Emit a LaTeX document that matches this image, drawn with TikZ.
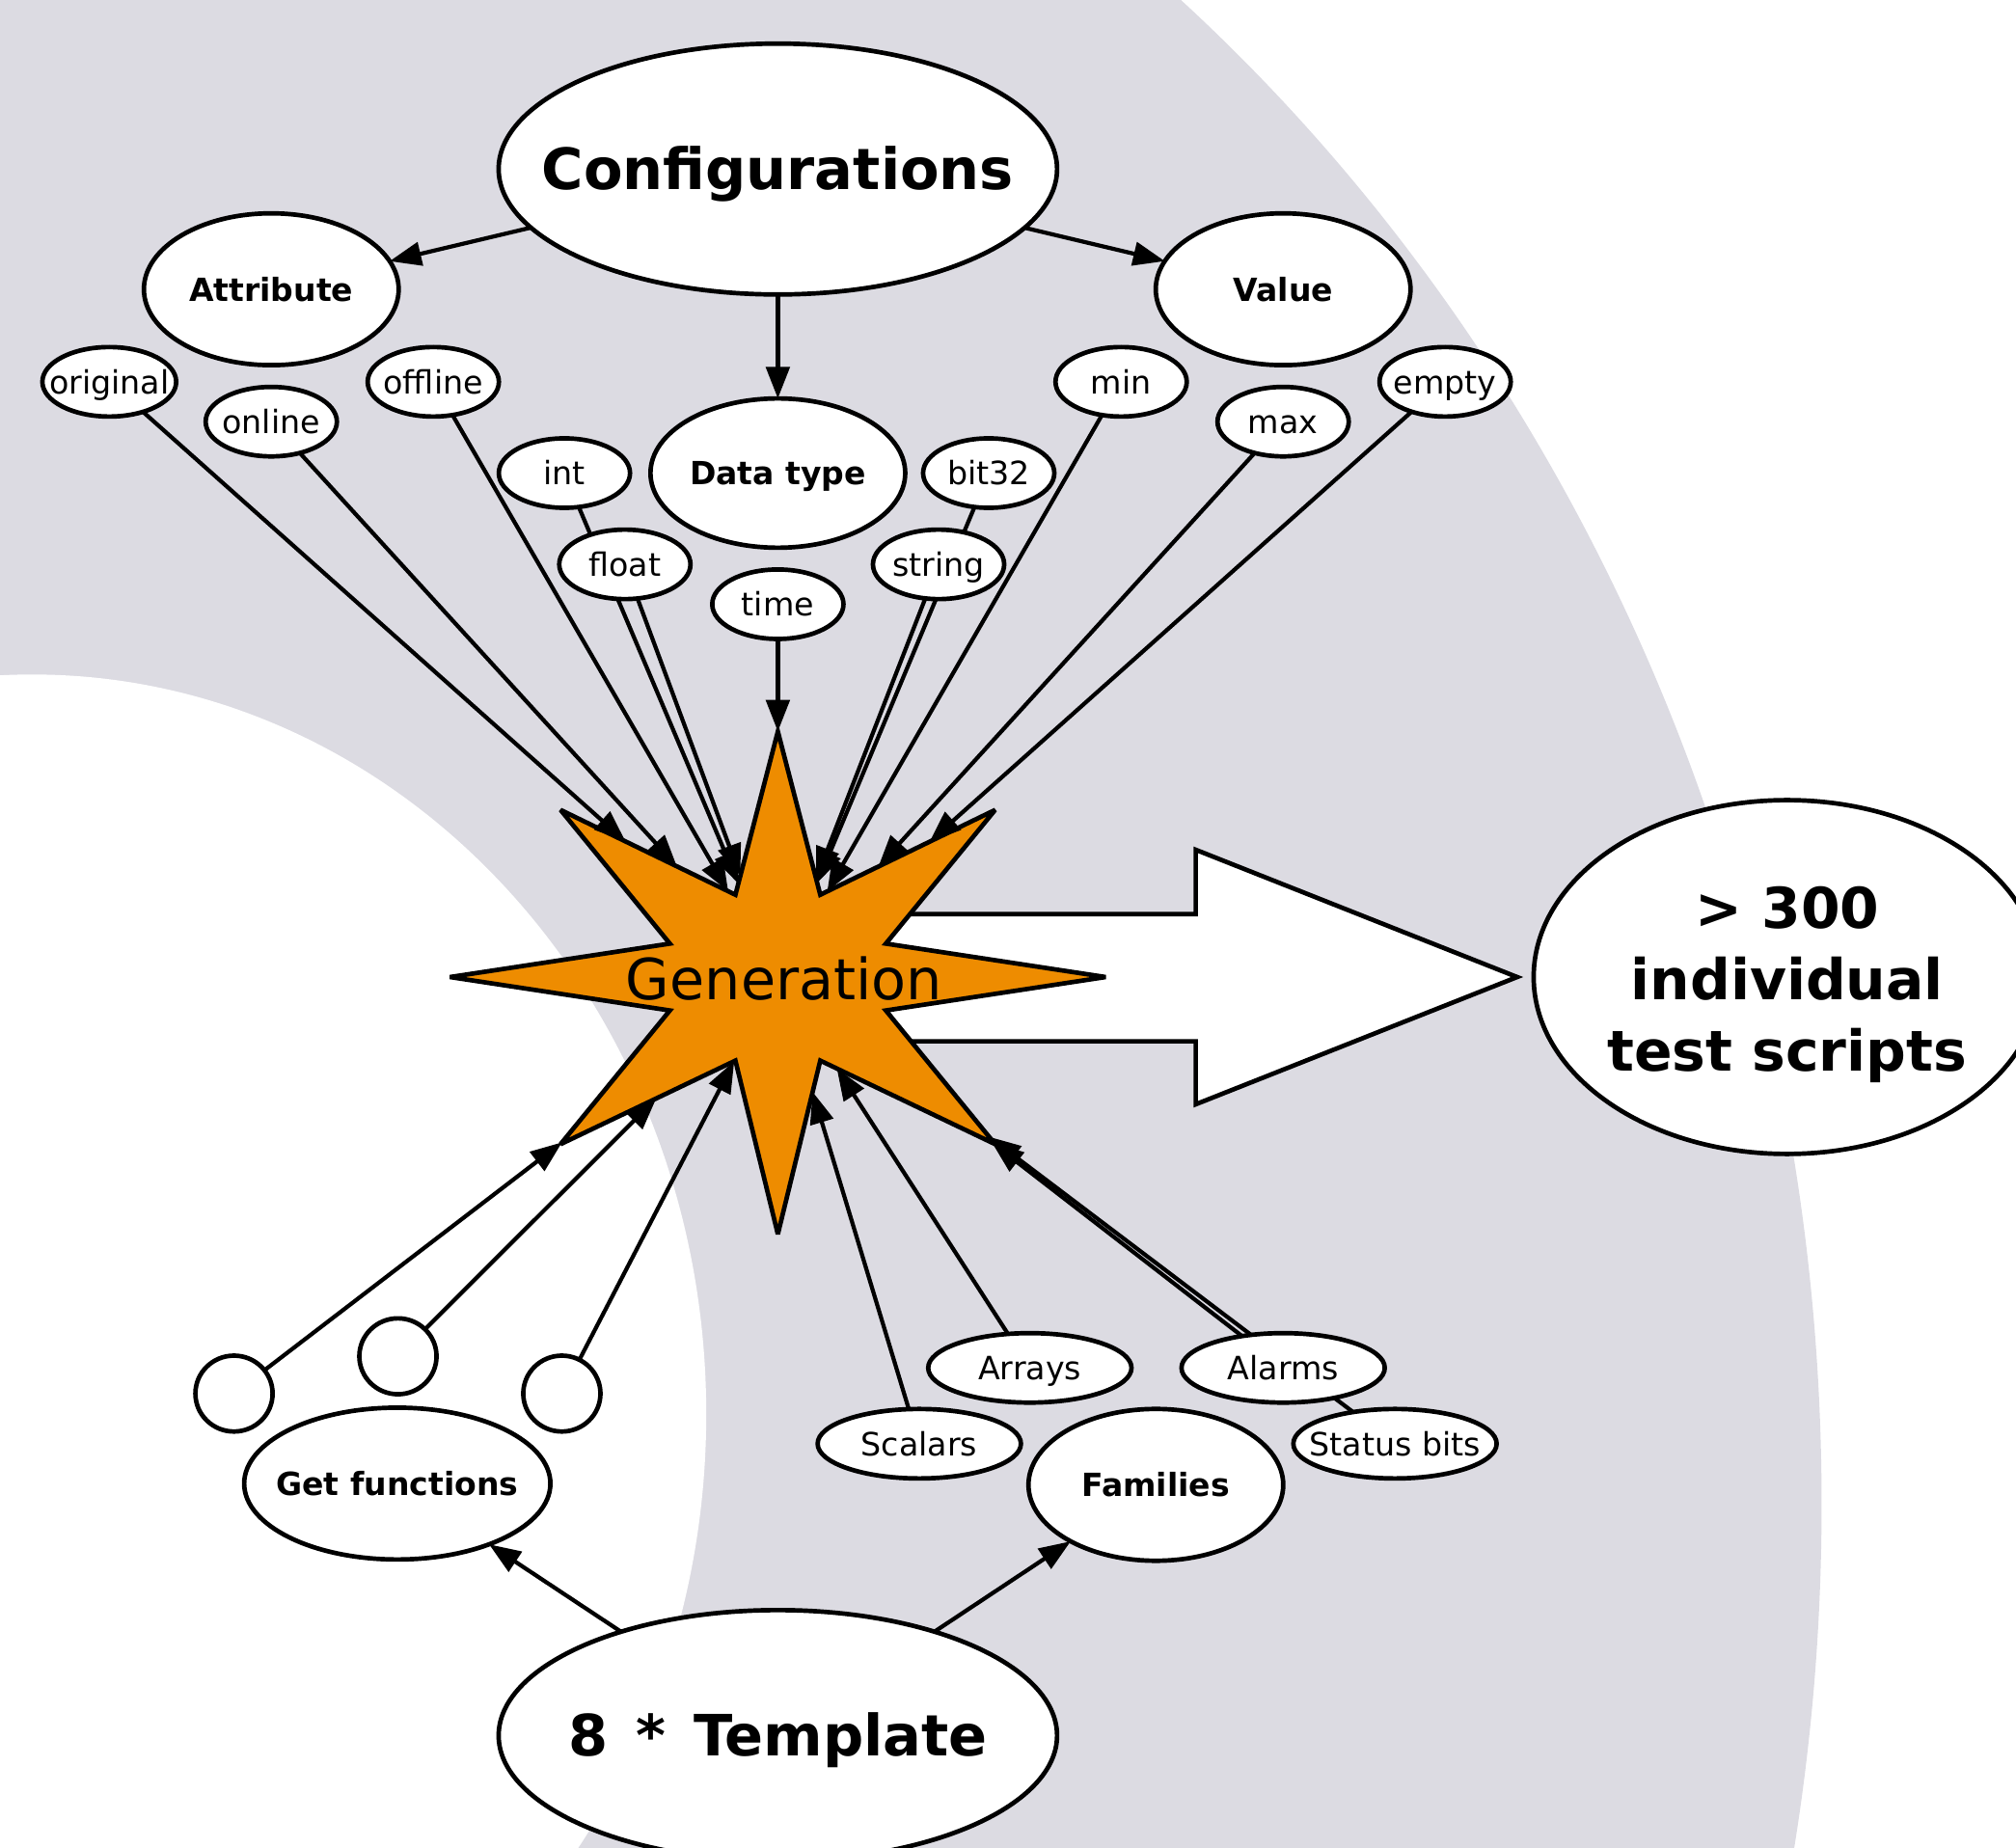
\documentclass[tikz,border=0pt]{standalone}
\usepackage{fontspec}
\setmainfont{DejaVu Sans}
\usetikzlibrary{shapes.geometric,arrows.meta,intersections}
\pgfdeclarelayer{bg}
\pgfdeclarelayer{edges}
\pgfsetlayers{bg,edges,main}
\definecolor{bgray}{RGB}{220,219,226}
\definecolor{starorange}{RGB}{238,140,0}
\tikzset{
  ov/.style={ellipse, draw, fill=white, line width=1pt, inner sep=0pt, outer sep=0pt},
  sz/.style 2 args={minimum width=#1*0.02cm, minimum height=#2*0.02cm},
  bigt/.style={font=\fontsize{12.6}{15.8}\selectfont\bfseries, text height=9.1pt, text depth=0pt},
  bigm/.style={font=\fontsize{12.45}{15.8}\selectfont\bfseries, align=center},
  gent/.style={font=\fontsize{12.55}{15}\selectfont, text height=9.1pt, text depth=0pt},
  smt/.style={font=\fontsize{7.1}{8.5}\selectfont, text height=5.2pt, text depth=0pt},
  smb/.style={font=\fontsize{7.05}{8.5}\selectfont\bfseries, text height=5.2pt, text depth=0pt},
  arr/.style={line width=0.9pt, -{Triangle[length=7pt,width=5.2pt]}},
  starsty/.style={fill=starorange, draw=black, line width=1pt, miter limit=4},
  blockarrow/.style={fill=white, draw=black, line width=1pt},
}
\newcommand\gedge[2]{%
  \path[name path=ln#2] (#1.center) -- (gen.center);
  \path[name intersections={of=ln#2 and starpath, sort by=ln#2, by={#2}}];
  \draw[arr] (#1) -- (#2);
}
\begin{document}
\begin{tikzpicture}[x=0.01cm,y=-0.01cm]
\useasboundingbox (0,0) rectangle (1568,1437);

% ---------- nodes ----------
\node[ov, sz={217}{97.5}, label={[bigt]center:Configurations}] (conf) at (605,131.5) {};
\node[ov, sz={99}{59}, label={[smb]center:Attribute}] (attr) at (211,225) {};
\node[ov, sz={99}{59}, label={[smb]center:Value}] (val) at (998,225) {};
\node[ov, sz={99}{58}, label={[smb]center:Data type}] (dtype) at (605,368) {};

\node[ov, sz={52}{27}, label={[smt]center:original}] (orig) at (85,297) {};
\node[ov, sz={51}{27}, label={[smt]center:online}] (onl) at (211,328) {};
\node[ov, sz={51}{27}, label={[smt]center:offline}] (offl) at (337,297) {};
\node[ov, sz={51}{27}, label={[smt]center:int}] (int) at (439,368) {};
\node[ov, sz={51}{27}, label={[smt]center:float}] (flt) at (486,439) {};
\node[ov, sz={51}{27}, label={[smt]center:time}] (tim) at (605,470) {};
\node[ov, sz={51}{27}, label={[smt]center:string}] (str) at (730,439) {};
\node[ov, sz={51}{27}, label={[smt]center:bit32}] (b32) at (769,368) {};
\node[ov, sz={51}{27}, label={[smt]center:min}] (mn) at (872,297) {};
\node[ov, sz={51}{27}, label={[smt]center:max}] (mx) at (998,328) {};
\node[ov, sz={51}{27}, label={[smt]center:empty}] (emp) at (1124,297) {};

\node[inner sep=0pt, label={[gent, xshift=0.05cm, yshift=-0.015cm]center:Generation}] (gen) at (605,760) {};

\node[ov, sz={197}{137.5}, label={[bigm, yshift=-0.06cm]center:{> 300\\individual\\test scripts}}] (res) at (1390,760) {};

\node[ov, sz={30}{29.5}] (c1) at (182,1084) {};
\node[ov, sz={30}{29.5}] (c2) at (309.5,1055) {};
\node[ov, sz={30}{29.5}] (c3) at (437,1084) {};
\node[ov, sz={119}{59}, label={[smb]center:Get functions}] (gf) at (309,1154) {};

\node[ov, sz={79}{27}, label={[smt]center:Scalars}] (sca) at (715,1123) {};
\node[ov, sz={79}{27}, label={[smt]center:Arrays}] (arrs) at (801,1064) {};
\node[ov, sz={79}{27}, label={[smt]center:Alarms}] (alm) at (998,1064) {};
\node[ov, sz={79}{27}, label={[smt]center:Status bits}] (stb) at (1085,1123) {};
\node[ov, sz={99}{59}, label={[smb]center:Families}] (fam) at (899,1155) {};

\node[ov, sz={217}{97.5}, label={[bigt]center:8\hspace{1.8pt} * \hspace{1.8pt}Template}] (tmpl) at (605,1350) {};

% ---------- background, block arrow, star ----------
\begin{pgfonlayer}{bg}
  \clip (0,0) rectangle (1568,1437);
  \fill[bgray] (25,1170) ellipse [x radius=13.91cm, y radius=15.25cm];
  \fill[white] (25,1100) ellipse [x radius=5.24cm, y radius=5.75cm];
  \path[blockarrow] (650,711) -- (930,711) -- (930,661) -- (1180,760) -- (930,859) -- (930,810) -- (650,810) -- cycle;
  \path[starsty, name path global=starpath]
    (605,569) -- (638,696) -- (774,630) -- (689,734) -- (860,760) -- (689,786) -- (774,890) -- (638,825)
    -- (605,960) -- (572,825) -- (436,890) -- (521,786) -- (350,760) -- (521,734) -- (436,630) -- (572,696) -- cycle;
\end{pgfonlayer}

% ---------- connectors ----------
\begin{pgfonlayer}{edges}
  \draw[arr] (conf) -- (attr);
  \draw[arr] (conf) -- (val);
  \draw[arr] (conf) -- (dtype);
  \draw[arr] (tmpl) -- (gf);
  \draw[arr] (tmpl) -- (fam);
  \gedge{orig}{t1}
  \gedge{onl}{t2}
  \gedge{offl}{t3}
  \gedge{int}{t4}
  \gedge{flt}{t5}
  \gedge{tim}{t6}
  \gedge{str}{t7}
  \gedge{b32}{t8}
  \gedge{mn}{t9}
  \gedge{mx}{t10}
  \gedge{emp}{t11}
  \gedge{c1}{t12}
  \gedge{c2}{t13}
  \gedge{c3}{t14}
  \gedge{sca}{t15}
  \gedge{arrs}{t16}
  \gedge{alm}{t17}
  \gedge{stb}{t18}
\end{pgfonlayer}
\end{tikzpicture}
\end{document}
